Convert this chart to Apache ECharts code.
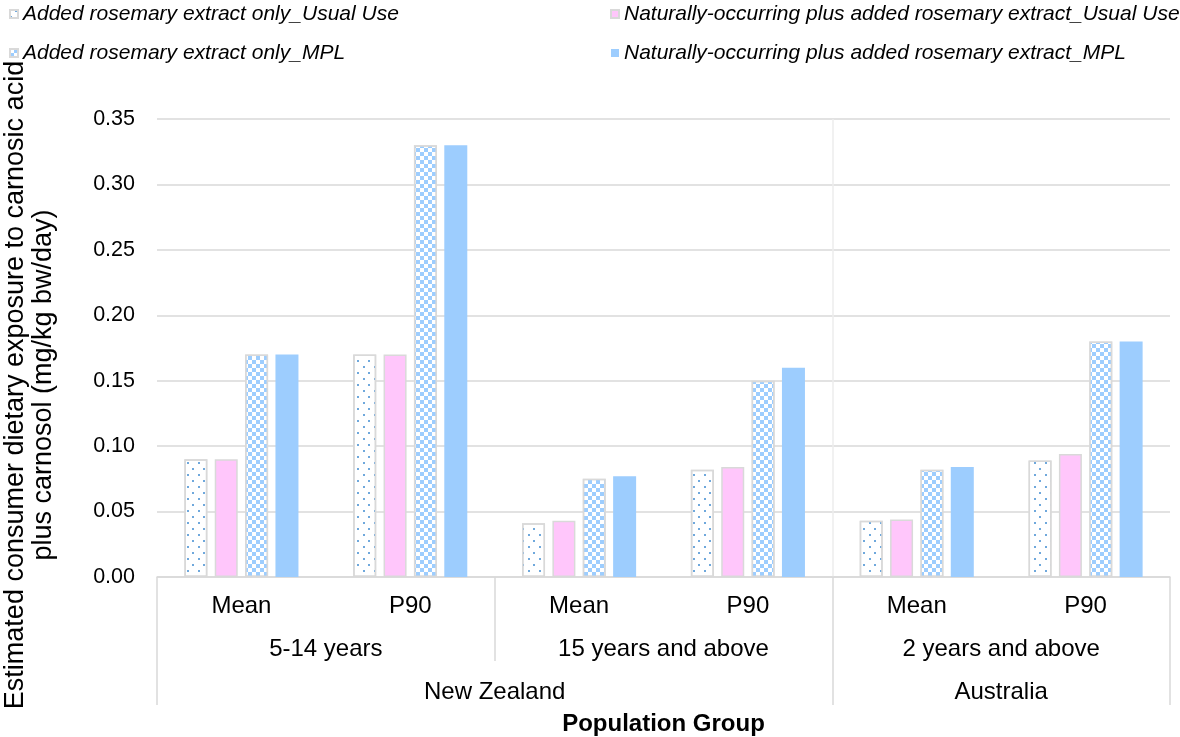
<!DOCTYPE html>
<html>
<head>
<meta charset="utf-8">
<script src="https://cdn.jsdelivr.net/npm/echarts@6/dist/echarts.min.js"></script>
<style>
html,body{margin:0;padding:0;background:#fff;}
#chart{width:1180px;height:737px;}
</style>
</head>
<body>
<div id="chart"></div>
<script>
// ---- data ----
const statCategories = ['Mean', 'P90', 'Mean', 'P90', 'Mean', 'P90'];
const ageGroups = ['5-14 years', '15 years and above', '2 years and above'];
const countryGroups = ['New Zealand', 'Australia'];
const countryGroupSizes = [4, 2];
const seriesNames = [
  'Added rosemary extract only_Usual Use',
  'Naturally-occurring plus added rosemary extract_Usual Use',
  'Added rosemary extract only_MPL',
  'Naturally-occurring plus added rosemary extract_MPL'
];
const addedUsual = [0.090, 0.170, 0.041, 0.082, 0.043, 0.089];
const naturalUsual = [0.090, 0.170, 0.043, 0.084, 0.044, 0.094];
const addedMPL = [0.170, 0.330, 0.075, 0.150, 0.082, 0.180];
const naturalMPL = [0.170, 0.330, 0.077, 0.160, 0.084, 0.180];
const yTicks = [0, 0.05, 0.10, 0.15, 0.20, 0.25, 0.30, 0.35];

// ---- derived group positions (in category units) ----
const boundaries = [0];
const centers = [];
countryGroupSizes.forEach(function (n, i) {
  centers.push(boundaries[i] + n / 2);
  boundaries.push(boundaries[i] + n);
});
const total = boundaries[boundaries.length - 1];
const innerBoundaries = boundaries.slice(1, -1);

const FONT = "'Liberation Sans', Arial, sans-serif";
const GRAY = '#d9d9d9';
const BLUE = '#9dcdfe';
const PINK = '#ffc6fb';

const chart = echarts.init(document.getElementById('chart'), null, {renderer: 'canvas'});

const legendText = {fontStyle: 'italic', fontSize: 21, color: '#000', fontFamily: FONT, lineHeight: 22};

const option = {
  backgroundColor: '#fff',
  animation: false,
  textStyle: {fontFamily: FONT},
  legend: [
    {
      data: [seriesNames[0], seriesNames[2]],
      orient: 'vertical', left: 4, top: -2, itemGap: 17,
      itemWidth: 8, itemHeight: 8, icon: 'rect',
      textStyle: legendText
    },
    {
      data: [seriesNames[1], seriesNames[3]],
      orient: 'vertical', left: 605, top: -2, itemGap: 17,
      itemWidth: 8, itemHeight: 8, icon: 'rect',
      textStyle: legendText
    }
  ],
  grid: {left: 157, right: 10, top: 119, bottom: 160, containLabel: false, outerBoundsMode: 'none'},
  xAxis: [
    {
      type: 'category', data: statCategories, position: 'bottom',
      axisLine: {show: true, lineStyle: {color: GRAY, width: 1.5}},
      axisTick: {show: false},
      axisLabel: {fontSize: 24, color: '#000', margin: 17, interval: 0, fontFamily: FONT},
      splitLine: {show: false}
    },
    {
      type: 'category', data: ageGroups, position: 'bottom',
      axisLine: {show: false},
      axisTick: {show: true, interval: 0, length: 84, lineStyle: {color: GRAY, width: 1.5}},
      axisLabel: {fontSize: 24, color: '#000', margin: 60, interval: 0, fontFamily: FONT},
      splitLine: {show: false}
    },
    {
      type: 'value', min: 0, max: total, position: 'bottom',
      axisLine: {show: false},
      axisTick: {show: true, customValues: boundaries, length: 128, lineStyle: {color: GRAY, width: 1.5}},
      axisLabel: {
        show: true, customValues: centers, fontSize: 24, color: '#000', margin: 103, fontFamily: FONT,
        formatter: function (v) { return countryGroups[centers.indexOf(v)] || ''; }
      },
      splitLine: {show: false},
      name: 'Population Group', nameLocation: 'middle', nameGap: 135,
      nameTextStyle: {fontSize: 24, fontWeight: 'bold', color: '#000', fontFamily: FONT}
    },
    {
      type: 'value', min: 0, max: total, position: 'bottom',
      axisLine: {show: false},
      axisTick: {show: false, customValues: innerBoundaries},
      axisLabel: {show: false},
      splitLine: {show: true, lineStyle: {color: '#ececec', width: 1.5}}
    }
  ],
  yAxis: {
    type: 'value', min: yTicks[0], max: yTicks[yTicks.length - 1], interval: yTicks[1] - yTicks[0],
    axisLine: {show: false}, axisTick: {show: false},
    splitLine: {show: true, lineStyle: {color: GRAY, width: 1.5}},
    axisLabel: {fontSize: 21.5, color: '#000', margin: 22, fontFamily: FONT,
      formatter: function (v) { return v.toFixed(2); }},
    name: 'Estimated consumer dietary exposure to carnosic acid\nplus carnosol (mg/kg bw/day)',
    nameLocation: 'middle', nameGap: 99,
    nameTextStyle: {fontSize: 27, color: '#000', lineHeight: 28, fontFamily: FONT, padding: [0, 74, 0, 0]}
  },
  series: [
    {
      name: seriesNames[0], type: 'bar', xAxisIndex: 0, data: addedUsual,
      barWidth: 23, barGap: '32%',
      itemStyle: {
        color: '#ffffff', borderColor: GRAY, borderWidth: 1.5,
        decal: {symbol: 'rect', color: '#6fa8dc', symbolSize: 1,
          dashArrayX: [[1.3, 9], [0, 5, 1.3, 3.7]], dashArrayY: [1.3, 3.7]}
      }
    },
    {
      name: seriesNames[1], type: 'bar', xAxisIndex: 0, data: naturalUsual,
      barWidth: 23, barGap: '32%',
      itemStyle: {color: PINK, borderColor: GRAY, borderWidth: 1.5}
    },
    {
      name: seriesNames[2], type: 'bar', xAxisIndex: 0, data: addedMPL,
      barWidth: 23, barGap: '32%',
      itemStyle: {
        color: '#ffffff', borderColor: GRAY, borderWidth: 1.5,
        decal: {symbol: 'rect', color: BLUE, symbolSize: 1,
          dashArrayX: [[3.3, 3.3], [0, 3.3, 3.3, 0]], dashArrayY: [3.3, 0]}
      }
    },
    {
      name: seriesNames[3], type: 'bar', xAxisIndex: 0, data: naturalMPL,
      barWidth: 23, barGap: '32%',
      itemStyle: {color: BLUE}
    }
  ]
};
chart.setOption(option);
</script>
</body>
</html>
